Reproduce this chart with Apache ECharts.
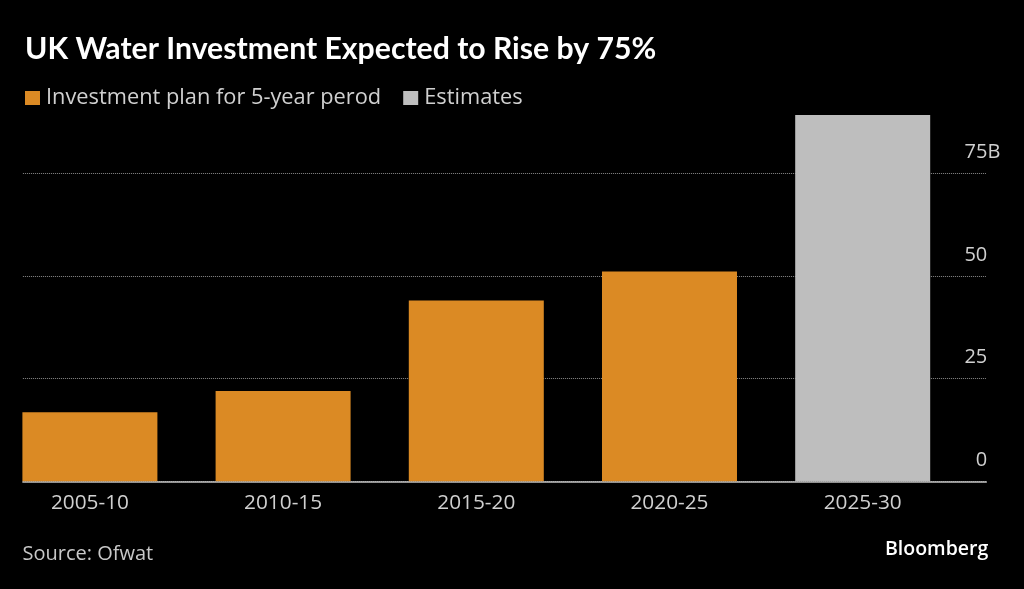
<!DOCTYPE html>
<html>
<head>
<meta charset="utf-8">
<script src="https://cdn.jsdelivr.net/npm/echarts@6/dist/echarts.min.js"></script>
<style>
html,body{margin:0;padding:0;background:#000;}
#c{width:1024px;height:589px;}
</style>
</head>
<body>
<div id="c"></div>
<script>
const categories = ['2005-10', '2010-15', '2015-20', '2020-25', '2025-30'];
const planValues = [16.8, 22, 44, 51.1, null];
const estimateValues = [null, null, null, null, 89.2];
const yTicks = [0, 25, 50, 75];

const FONT = 'Open Sans';
const catIdx = categories.map((c, i) => i);
const chart = echarts.init(document.getElementById('c'));
chart.setOption({
  backgroundColor: '#000',
  animation: false,
  textStyle: { fontFamily: FONT },
  title: [
    { text: 'UK Water Investment Expected to Rise by 75%', left: 20, top: 29,
      textStyle: { color: '#fff', fontSize: 30.2, fontWeight: 'bold', fontFamily: 'Lato' } },
    { text: 'Source: Ofwat', left: 17.5, top: 539.5,
      textStyle: { color: '#c8c8c8', fontSize: 20, fontWeight: 'normal', fontFamily: FONT } },
    { text: 'Bloomberg', right: 30.7, top: 534,
      textStyle: { color: '#fff', fontSize: 19.5, fontWeight: 600, fontFamily: FONT } }
  ],
  legend: {
    left: 20, top: 82, itemWidth: 15, itemHeight: 14, itemGap: 22, icon: 'rect',
    textStyle: { color: '#d0d0d0', fontSize: 21.8, fontFamily: FONT, padding: [0, 0, 0, 1] },
    data: ['Investment plan for 5-year perod', 'Estimates']
  },
  grid: { left: 22.9, right: 37.7, top: 111.6, bottom: 107.7 },
  xAxis: {
    type: 'value', min: -0.3468, max: 4.6398,
    axisLine: { show: true, lineStyle: { color: '#c4c4c4', width: 1.5 } },
    axisTick: { show: false }, splitLine: { show: false },
    axisLabel: {
      customValues: catIdx,
      formatter: v => categories[Math.round(v)],
      color: '#d0d0d0', fontSize: 20.8, margin: 11, fontFamily: FONT
    }
  },
  yAxis: {
    type: 'value', position: 'right', min: 0, max: 90, interval: 25,
    axisLine: { show: false }, axisTick: { show: false },
    splitLine: { show: true, showMaxLine: false, lineStyle: { color: '#8a8a8a', type: 'dotted', width: 1 } },
    axisLabel: {
      inside: true, align: 'right', verticalAlign: 'bottom', margin: -14,
      customValues: yTicks,
      formatter: v => v === 75 ? '{a|75B}' : '{p|' + v + '}',
      rich: {
        a: { color: '#d0d0d0', fontSize: 20, fontFamily: FONT, padding: [0, 0, 11, 0] },
        p: { color: '#d0d0d0', fontSize: 20, fontFamily: FONT, padding: [0, 13, 11, 0] }
      }
    }
  },
  series: [
    { name: 'Investment plan for 5-year perod', type: 'bar',
      data: planValues.map((v, i) => [i, v]), barWidth: 135, barGap: '-100%', z: 3,
      itemStyle: { color: '#DB8A24' } },
    { name: 'Estimates', type: 'bar',
      data: estimateValues.map((v, i) => [i, v]), barWidth: 135, barGap: '-100%', z: 3,
      itemStyle: { color: '#BEBEBE' } }
  ]
});
</script>
</body>
</html>
